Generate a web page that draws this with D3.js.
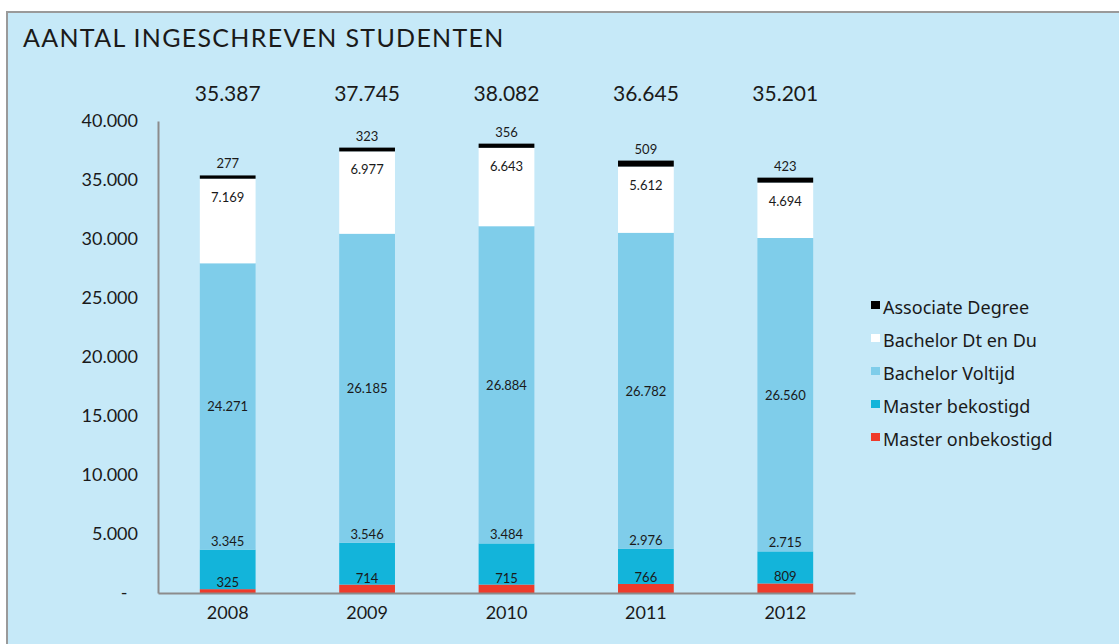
<!DOCTYPE html>
<html>
<head>
  <meta charset="UTF-8" />
  <title>Aantal ingeschreven studenten</title>
  <script src="https://d3js.org/d3.v7.min.js"></script>
  <style>
    body { margin: 0; background: #fff; }
    text { font-family: Lato, "Noto Sans", sans-serif; fill: #1a1a1a; }
    .legend-label { font-family: "Noto Sans", Lato, sans-serif; }
  </style>
</head>
<body>
  <div id="chart"></div>
  <script>
    // data
    const years = ["2008", "2009", "2010", "2011", "2012"];
    const masterOnbekostigd = [325, 714, 715, 766, 809];
    const masterBekostigd = [3345, 3546, 3484, 2976, 2715];
    const bachelorVoltijd = [24271, 26185, 26884, 26782, 26560];
    const bachelorDtDu = [7169, 6977, 6643, 5612, 4694];
    const associateDegree = [277, 323, 356, 509, 423];
    const totals = [35387, 37745, 38082, 36645, 35201];
    const yTicks = [0, 5000, 10000, 15000, 20000, 25000, 30000, 35000, 40000];

    const seriesNames = ["Master onbekostigd", "Master bekostigd", "Bachelor Voltijd", "Bachelor Dt en Du", "Associate Degree"];
    const seriesColors = ["#ee3b2b", "#13b4da", "#7fcdea", "#ffffff", "#000000"];

    const nl = d3.formatLocale({ decimal: ",", thousands: ".", grouping: [3], currency: ["€", ""] });
    const fmt = nl.format(",d");

    const width = 1119, height = 644;
    const svg = d3.select("#chart").append("svg")
      .attr("width", width)
      .attr("height", height);

    // panel
    svg.append("rect")
      .attr("x", 7).attr("y", 12)
      .attr("width", width).attr("height", height)
      .attr("fill", "#c6e9f8")
      .attr("stroke", "#9a9a9a")
      .attr("stroke-width", 2);

    svg.append("text")
      .attr("x", 23).attr("y", 47)
      .style("font-size", "25px")
      .style("letter-spacing", "1.3px")
      .text("AANTAL INGESCHREVEN STUDENTEN");

    const x = d3.scaleBand()
      .domain(years)
      .range([158, 855])
      .paddingInner(0.6)
      .paddingOuter(0.3);

    const y = d3.scaleLinear()
      .domain([0, 40000])
      .range([593, 121]);

    // build table for stack
    const table = years.map((yr, i) => ({
      year: yr,
      "Master onbekostigd": masterOnbekostigd[i],
      "Master bekostigd": masterBekostigd[i],
      "Bachelor Voltijd": bachelorVoltijd[i],
      "Bachelor Dt en Du": bachelorDtDu[i],
      "Associate Degree": associateDegree[i]
    }));
    const stacked = d3.stack().keys(seriesNames)(table);

    // bars
    svg.append("g")
      .selectAll("g")
      .data(stacked)
      .join("g")
      .attr("fill", (d, i) => seriesColors[i])
      .selectAll("rect")
      .data(d => d)
      .join("rect")
      .attr("x", d => x(d.data.year))
      .attr("y", d => y(d[1]))
      .attr("width", x.bandwidth())
      .attr("height", d => y(d[0]) - y(d[1]));

    // segment labels
    const labelY = [
      d => y(d[1]) - 2,   // onbekostigd: just above its top
      d => y(d[1]) - 4,   // bekostigd: just above its top
      d => (y(d[0]) + y(d[1])) / 2 + 5, // voltijd: middle
      d => y(d[1]) + 23,  // Dt en Du: near top
      d => y(d[1]) - 7    // AD: above bar
    ];
    stacked.forEach((s, si) => {
      svg.append("g")
        .selectAll("text")
        .data(s)
        .join("text")
        .attr("x", d => x(d.data.year) + x.bandwidth() / 2)
        .attr("y", labelY[si])
        .attr("text-anchor", "middle")
        .style("font-size", "13px")
        .text(d => fmt(d[1] - d[0]));
    });

    // totals
    svg.append("g")
      .selectAll("text")
      .data(totals)
      .join("text")
      .attr("x", (d, i) => x(years[i]) + x.bandwidth() / 2)
      .attr("y", 101)
      .attr("text-anchor", "middle")
      .style("font-size", "21px")
      .text(d => fmt(d));

    // axes
    const yAxis = d3.axisLeft(y)
      .tickValues(yTicks)
      .tickSize(0)
      .tickPadding(20)
      .tickFormat(d => d === 0 ? "-\u2007" : fmt(d));
    const gy = svg.append("g")
      .attr("transform", "translate(158,0)")
      .call(yAxis);
    gy.select(".domain").attr("stroke", "#8c8c8c").attr("stroke-width", 2);
    gy.selectAll("text").style("font-size", "18px").attr("fill", "#1a1a1a");

    const xAxis = d3.axisBottom(x).tickSize(0).tickPadding(13);
    const gx = svg.append("g")
      .attr("transform", "translate(0,593)")
      .call(xAxis);
    gx.select(".domain").attr("stroke", "#8c8c8c").attr("stroke-width", 2);
    gx.selectAll("text").style("font-size", "18px").attr("fill", "#1a1a1a");

    // legend
    const legendNames = seriesNames.slice().reverse();
    const legendColors = seriesColors.slice().reverse();
    const legend = svg.append("g")
      .selectAll("g")
      .data(legendNames)
      .join("g")
      .attr("transform", (d, i) => "translate(871," + (314 + i * 33) + ")");
    legend.append("rect")
      .attr("x", 0).attr("y", -13)
      .attr("width", 9).attr("height", 8)
      .attr("fill", (d, i) => legendColors[i]);
    legend.append("text")
      .attr("class", "legend-label")
      .attr("x", 12).attr("y", 0)
      .style("font-size", "18px")
      .text(d => d);
  </script>
</body>
</html>
